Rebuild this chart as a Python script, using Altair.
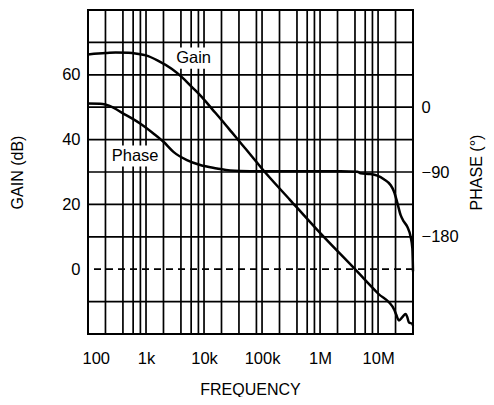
import altair as alt
import pandas as pd

# ---- data ----
gain_freq = [100, 150, 200, 300, 500, 700, 1000, 1600, 2800, 4150, 6200, 9200,
             13700, 20400, 30000, 45000, 67000, 100000, 300000, 1e6, 4e6, 1e7,
             1.9e7, 2.05e7, 2.29e7, 2.62e7, 2.99e7, 3.19e7, 3.4e7, 3.9e7, 4e7]
gain_db = [66.3, 66.6, 66.7, 66.9, 66.8, 66.5, 66.0, 64.4, 61.8, 59.3, 56.2, 53.1,
           49.5, 45.9, 42.3, 38.5, 34.8, 31.0, 21.5, 11.2, 0.0, -7.5,
           -12.5, -14.0, -15.8, -14.8, -13.8, -14.8, -16.4, -16.9, -17.4]

phase_freq = [100, 180, 240, 400, 790, 1340, 2000, 2970, 5070, 8600, 16600, 28000,
              62000, 2.25e6, 4.4e6, 5e6, 7.4e6, 9.7e6, 1.26e7, 1.64e7, 1.88e7,
              2.15e7, 2.45e7, 2.79e7, 3.19e7, 3.64e7, 3.9e7, 4e7]
phase_deg = [5, 4.6, 1.5, -8.5, -22.6, -36.4, -48, -62, -73.4, -80.3, -85, -88,
             -89, -89, -89.6, -91.8, -92.8, -95, -100, -108, -117,
             -133, -150, -159, -166, -180, -196, -228]

x_grid = [200, 400, 600, 800, 1e3, 2e3, 4e3, 6e3, 8e3, 1e4, 2e4, 4e4, 8e4, 1e5,
          2e5, 4e5, 6e5, 8e5, 1e6, 2e6, 4e6, 6e6, 8e6, 1e7, 2e7]
y_grid = [-10, 10, 20, 30, 40, 50, 60, 70]
zero_line = [0]

x_ticks = [100, 1e3, 1e4, 1e5, 1e6, 1e7]
x_tick_labels = ["100", "1k", "10k", "100k", "1M", "10M"]
gain_ticks = [0, 20, 40, 60]
phase_ticks = [0, -90, -180]

label_text = ["Gain", "Phase"]
label_freq = [6600, 649]
label_pos = [65.2, 34.8]
box_f1 = [2940, 231]
box_f2 = [15000, 1824]
box_v1 = [61.9, 31.7]
box_v2 = [68.4, 38.2]

FONT = "Liberation Sans"
LBL = 16.5
TTL = 16

# ---- tables ----
gain_df = pd.DataFrame({"f": gain_freq, "v": gain_db})
phase_df = pd.DataFrame({"f": phase_freq, "p": phase_deg})
xgrid_df = pd.DataFrame({"f": x_grid})
ygrid_df = pd.DataFrame({"v": y_grid})
zero_df = pd.DataFrame({"v": zero_line})
label_df = pd.DataFrame({"t": label_text, "f": label_freq, "v": label_pos})
box_df = pd.DataFrame({"f": box_f1, "f2": box_f2, "v": box_v1, "v2": box_v2})

label_expr = " : ".join(
    f"abs(datum.value - {v}) < {v * 1e-6} ? '{t}'" for v, t in zip(x_ticks, x_tick_labels)
) + " : ''"

xscale = alt.Scale(type="log", domain=[100, 4e7], nice=False)
yscale = alt.Scale(domain=[-20, 80], nice=False, zero=False)
pscale = alt.Scale(domain=[-315, 135], nice=False, zero=False)

common = dict(grid=False, ticks=False, tickSize=0, domain=False,
              labelFont=FONT, labelFontSize=LBL, labelColor="black",
              titleFont=FONT, titleFontSize=TTL, titleColor="black",
              titleFontWeight="normal", titleAlign="center")

xaxis = alt.Axis(values=x_ticks, labelExpr=label_expr, title="FREQUENCY",
                 labelPadding=16, labelFlush=True, labelFlushOffset=6,
                 titleX=162, titleY=60, titleBaseline="alphabetic", **common)
yaxis = alt.Axis(values=gain_ticks, title="GAIN (dB)", labelPadding=8,
                 titleAngle=270, titleX=-71, titleY=162, titleBaseline="middle",
                 **common)
paxis = alt.Axis(values=phase_ticks, orient="right", title="PHASE (°)",
                 labelPadding=8, labelAlign="left",
                 labelExpr="datum.value == 0 ? '\u2007' + datum.label : datum.label",
                 titleAngle=270, titleX=63, titleY=162, titleBaseline="middle",
                 **common)

X = alt.X("f:Q", scale=xscale, axis=xaxis)
Y = alt.Y("v:Q", scale=yscale, axis=yaxis)

vgrid = alt.Chart(xgrid_df).mark_rule(color="black", strokeWidth=1.7).encode(x=X)
hgrid = alt.Chart(ygrid_df).mark_rule(color="black", strokeWidth=1.7).encode(y=Y)
zero = alt.Chart(zero_df).mark_rule(color="black", strokeWidth=1.7,
                                    strokeDash=[7, 5]).encode(y=Y)
boxes = alt.Chart(box_df).mark_rect(color="white").encode(
    x=X, x2="f2:Q", y=Y, y2="v2:Q")
texts = alt.Chart(label_df).mark_text(font=FONT, fontSize=LBL, color="black",
                                      align="center", baseline="middle").encode(
    x=X, y=Y, text="t:N")
gain_line = alt.Chart(gain_df).mark_line(color="black", strokeWidth=2.5,
                                         interpolate="monotone").encode(x=X, y=Y)

gain_part = alt.layer(vgrid, hgrid, zero, boxes, texts, gain_line)

phase_line = alt.Chart(phase_df).mark_line(color="black", strokeWidth=2.5,
                                           interpolate="monotone").encode(
    x=X, y=alt.Y("p:Q", scale=pscale, axis=paxis))

chart = alt.layer(gain_part, phase_line).resolve_scale(y="independent").properties(
    width=325, height=324,
    autosize=alt.AutoSizeParams(type="none"),
    padding={"left": 80, "top": 2, "right": 73, "bottom": 63},
    background="white",
).configure_view(stroke="black", strokeWidth=2)

chart.save("out.html", embed_options={"renderer": "svg", "actions": False})
